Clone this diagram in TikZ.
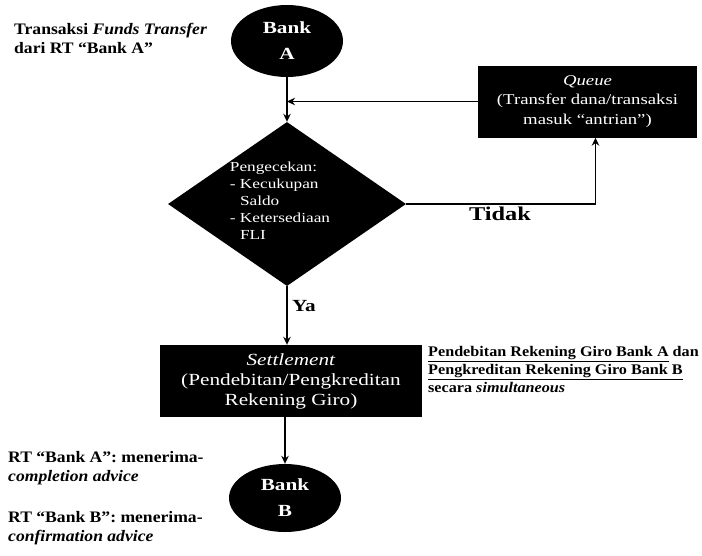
\documentclass[tikz,border=0pt]{standalone}
\usepackage{fontspec}
\setmainfont{Liberation Serif}[FakeStretch=1.1]
\newfontfamily\widefont{Liberation Serif}[FakeStretch=1.25]
\usetikzlibrary{shapes.geometric,arrows.meta}

\begin{document}
\begin{tikzpicture}[x=1pt,y=-1pt,
  terminal/.style={ellipse, fill=black, text=white, inner sep=0pt, align=center,
    minimum width=112pt, minimum height=72pt,
    font=\widefont\fontsize{17}{26}\selectfont\bfseries},
  procbox/.style={rectangle, fill=black, text=white, inner sep=0pt, align=center},
  decision/.style={diamond, fill=black, inner sep=0pt, aspect=1.45,
    minimum width=238pt, minimum height=164pt},
  inbox/.style={text=white, inner sep=0pt, align=left,
    font=\widefont\fontsize{13.8}{17}\selectfont},
  note/.style={inner sep=0pt, align=left, anchor=north west,
    font=\fontsize{16}{19}\selectfont\bfseries},
  branch/.style={inner sep=0pt, font=\widefont\fontsize{19.5}{21}\selectfont\bfseries},
  flow/.style={line width=1.6pt, -{Stealth[length=8pt,width=7.5pt]}},
]
\useasboundingbox (0,0) rectangle (702,555);

% flow nodes
\node[terminal] (bankA) at (287,41) {Bank\\A};
\node[decision] (dec) at (287,204) {};
\node[inbox] (checks) at (280,201) {Pengecekan:\\- Kecukupan\\\phantom{- }Saldo\\- Ketersediaan\\\phantom{- }FLI};
\node[procbox, minimum width=219pt, minimum height=72pt,
  font=\widefont\fontsize{15}{19.5}\selectfont] (queue) at (587.5,101.5)
  {\textit{Queue}\\(Transfer dana/transaksi\\masuk “antrian”)};
\node[procbox, minimum width=262pt, minimum height=72pt,
  font=\widefont\fontsize{17}{20}\selectfont] (settle) at (291,381)
  {\textit{Settlement}\\(Pendebitan/Pengkreditan\\Rekening Giro)};
\node[terminal, minimum height=68pt] (bankB) at (285,498) {Bank\\B};

% side notes
\node[note] (n1) at (14,23) {Transaksi \textit{Funds Transfer}\\dari RT “Bank A”};
\node[note, font=\fontsize{14.7}{18}\selectfont\bfseries] (n2) at (428,346)
  {\underline{Pendebitan Rekening Giro Bank A} dan\\\underline{Pengkreditan Rekening Giro Bank B}\\secara \textit{simultaneous}};
\node[note] (n3) at (8,451) {RT “Bank A”: menerima-\\\textit{completion advice}};
\node[note] (n4) at (8,511) {RT “Bank B”: menerima-\\\textit{confirmation advice}};

% connectors
\draw[flow] (bankA.south) -- (dec.north);
\draw[flow] (queue.west) -- (queue.west -| dec.north);
\coordinate (qin) at ([xshift=8pt]queue.south);
\draw[flow] (dec.east) -| (qin);
\draw[flow] (dec.south) -- (dec.south |- settle.north);
\draw[flow] (bankB.north |- settle.south) -- (bankB.north);

% branch labels
\node[branch] (tidak) at (500,214) {Tidak};
\node[branch, font=\widefont\fontsize{17}{19}\selectfont\bfseries] (ya) at (304,306) {Ya};
\end{tikzpicture}
\end{document}
